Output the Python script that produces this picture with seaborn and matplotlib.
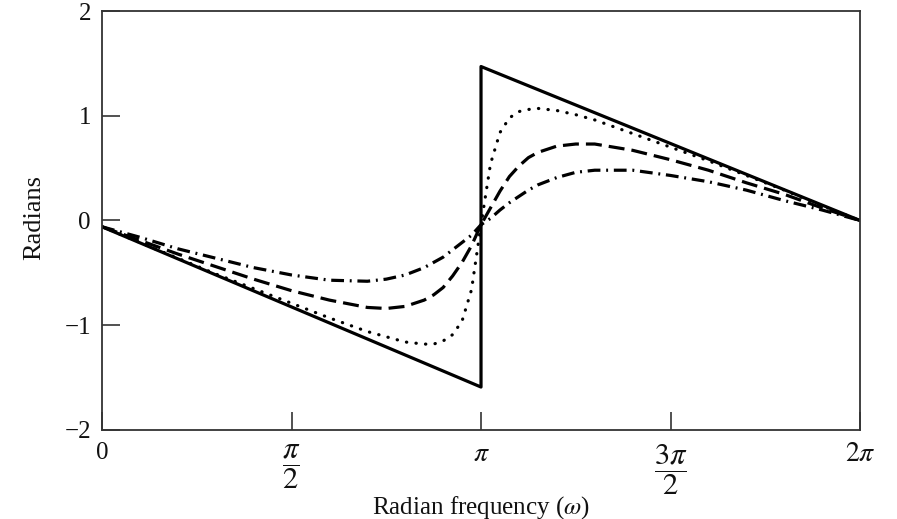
import numpy as np
import pandas as pd
import seaborn as sns
import matplotlib.pyplot as plt

# Frequency samples, in multiples of pi
omega_pi = [0.0, 0.1, 0.2, 0.3, 0.4, 0.5, 0.6, 0.7, 0.75, 0.8, 0.85, 0.875,
            0.9, 0.925, 0.95, 0.975, 1.0,
            1.025, 1.05, 1.075, 1.1, 1.125, 1.15, 1.2, 1.25, 1.3, 1.4, 1.5,
            1.6, 1.7, 1.8, 1.9, 2.0]

# Phase curves (radians)
phase_dotted = [-0.06, -0.21, -0.36, -0.51, -0.65, -0.79, -0.93, -1.06, -1.11,
                -1.16, -1.18, -1.18, -1.15, -1.09, -0.96, -0.66, -0.04,
                0.54, 0.84, 0.98, 1.04, 1.06, 1.07, 1.05, 1.01, 0.96, 0.83,
                0.70, 0.57, 0.43, 0.29, 0.14, 0.0]
phase_dashed = [-0.06, -0.19, -0.32, -0.44, -0.56, -0.67, -0.76, -0.83, -0.84,
                -0.82, -0.76, -0.71, -0.64, -0.53, -0.40, -0.24, -0.04,
                0.12, 0.28, 0.42, 0.52, 0.60, 0.65, 0.71, 0.73, 0.73, 0.67,
                0.58, 0.48, 0.36, 0.25, 0.12, 0.0]
phase_dashdot = [-0.06, -0.16, -0.27, -0.36, -0.45, -0.52, -0.57, -0.58, -0.56,
                 -0.52, -0.45, -0.40, -0.35, -0.28, -0.21, -0.14, -0.04,
                 0.02, 0.10, 0.17, 0.23, 0.29, 0.34, 0.41, 0.46, 0.48, 0.48,
                 0.43, 0.37, 0.29, 0.19, 0.10, 0.0]

# Solid curve: straight segments with a jump at pi
solid_pi = [0.0, 1.0, 1.0, 2.0]
solid_phase = [-0.06, -1.59, 1.47, 0.0]

x_ticks_pi = [0.0, 0.5, 1.0, 1.5, 2.0]
x_tick_labels = ['0', r'$\dfrac{\pi}{2}$', r'$\pi$', r'$\dfrac{3\pi}{2}$', r'$2\pi$']
y_ticks = [-2, -1, 0, 1, 2]
y_tick_labels = ['\u22122', '\u22121', '0', '1', '2']

sns.set_theme(style='white')
plt.rcParams['font.family'] = ['Liberation Serif', 'DejaVu Serif']
plt.rcParams['mathtext.fontset'] = 'stix'

fig = plt.figure(figsize=(8.97, 5.19), dpi=100)
ax = fig.add_axes([0.1137, 0.1715, 0.8451, 0.8073])

curves = pd.DataFrame({
    'omega': np.array(omega_pi) * np.pi,
    'dotted': phase_dotted,
    'dashed': phase_dashed,
    'dashdot': phase_dashdot,
})
solid = pd.DataFrame({'omega': np.array(solid_pi) * np.pi, 'phase': solid_phase})

line_kw = dict(color='black', lw=2.3, sort=False, estimator=None, ax=ax)
sns.lineplot(data=solid, x='omega', y='phase', linestyle='-',
             solid_joinstyle='round', **line_kw)
sns.lineplot(data=curves, x='omega', y='dotted', linestyle=(0, (0.1, 2.9)),
             dash_capstyle='round', **line_kw)
sns.lineplot(data=curves, x='omega', y='dashed', linestyle=(0, (5.0, 2.2)),
             **line_kw)
sns.lineplot(data=curves, x='omega', y='dashdot',
             linestyle=(0, (4.0, 1.8, 0.6, 1.8)), **line_kw)

ax.set_xlim(0, 2 * np.pi)
ax.set_ylim(-2, 2)
ax.set_xticks(np.array(x_ticks_pi) * np.pi)
ax.set_xticklabels(x_tick_labels)
ax.set_yticks(y_ticks)
ax.set_yticklabels(y_tick_labels)

ax.tick_params(axis='both', which='major', direction='in', length=13,
               width=1.2, color='#333333', labelsize=18, labelcolor='#111111',
               bottom=True, left=True, top=False, right=False)
ax.tick_params(axis='x', pad=9)
ax.tick_params(axis='y', pad=8)

# Math labels: stacked fractions drawn larger so their parts read full size
for lbl in ax.get_xticklabels():
    txt = lbl.get_text()
    if 'dfrac' in txt:
        lbl.set_fontsize(22)
    elif 'pi' in txt:
        lbl.set_fontsize(20)

for side in ['left', 'right', 'top', 'bottom']:
    ax.spines[side].set_visible(True)
    ax.spines[side].set_color('#333333')
    ax.spines[side].set_linewidth(1.3)

ax.set_xlabel(r'Radian frequency ($\omega$)', fontsize=18, color='#111111')
ax.set_ylabel('Radians', fontsize=19, color='#111111')
ax.xaxis.set_label_coords(0.5, -0.152)
ax.xaxis.label.set_verticalalignment('top')
ax.yaxis.set_label_coords(-0.075, 0.508)

fig.savefig('out.png', dpi=100)
